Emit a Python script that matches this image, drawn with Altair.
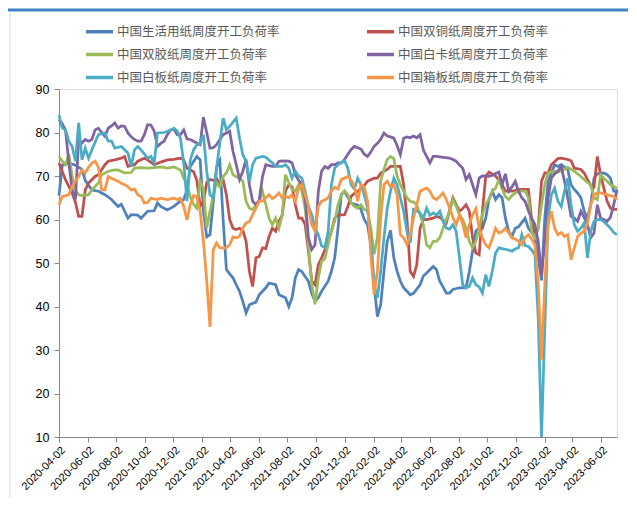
import altair as alt
import pandas as pd

names = ["中国生活用纸周度开工负荷率", "中国双铜纸周度开工负荷率", "中国双胶纸周度开工负荷率",
         "中国白卡纸周度开工负荷率", "中国白板纸周度开工负荷率", "中国箱板纸周度开工负荷率"]
colors = ["#4F81BD", "#C0504D", "#9BBB59", "#8064A2", "#4BACC6", "#F79646"]
# legend fills column by column: this order gives rows (生活用纸, 双铜纸), (双胶纸, 白卡纸), (白板纸, 箱板纸)
legend_order = [0, 2, 4, 1, 3, 5]

start_date = "2020-04-02"
tick_dates = ["2020-04-02", "2020-06-02", "2020-08-02", "2020-10-02", "2020-12-02",
              "2021-02-02", "2021-04-02", "2021-06-02", "2021-08-02", "2021-10-02", "2021-12-02",
              "2022-02-02", "2022-04-02", "2022-06-02", "2022-08-02", "2022-10-02", "2022-12-02",
              "2023-02-02", "2023-04-02", "2023-06-02"]
end_date = "2023-07-06"

# [week since 2020-04-02, value]
tissue = [[0,65.5],[1,72.5],[3,73],[5,72.5],[7,71.5],[8,69],[10,66.8],[12,66.5],[14,65.7],[16,64.6],[18,63],[19,63.5],[21,60.3],[22,61.1],[24,61],[25,60.3],[27,61.9],[29,62],[30,63.8],[31,63],[33,62.2],[35,63],[37,64.2],[38,64.6],[39,66.8],[40,72.2],[42,74.5],[43,73.7],[44,62],[45,56],[46,56.5],[47,64],[48,72],[49,73.5],[50,60],[51,48.5],[52,47.5],[53,46.6],[54,45],[55,43.5],[56,41.2],[57,38.5],[58,40.4],[60,41],[61,42.7],[63,44.3],[64,45.4],[66,45],[67,42.7],[69,42],[70,40],[71,42],[72,46.6],[73,48.5],[74,48],[76,45.8],[77,43],[78,41.2],[79,42],[80,43.5],[82,45.8],[83,48.1],[84,51.2],[85,58],[86,65.7],[87,66.5],[89,63.8],[91,63.3],[92,62.3],[93,60],[94,58.8],[95,54.2],[96,45],[97,37.7],[98,40.4],[99,48.1],[100,55],[101,57.5],[102,51.2],[103,48.1],[104,45.8],[105,44.3],[107,42.7],[108,43],[110,45],[111,47],[112,47.7],[114,49.2],[115,48.5],[116,45.8],[117,44.5],[118,43.1],[119,43.1],[120,43.9],[122,44.3],[124,44.3],[125,48],[126,52.7],[127,57.3],[128,58],[129,58],[130,60.3],[131,64.6],[132,66.5],[133,64.6],[134,65.7],[135,65],[136,60.3],[137,57.3],[138,56.1],[139,58],[140,58.3],[142,60.3],[143,58],[144,57],[145,55.8],[146,51.2],[147,46],[148,60.3],[149,68.8],[151,72.6],[152,72.2],[153,72.6],[155,71.5],[156,68],[157,66.9],[158,66.1],[159,65],[160,61.9],[161,60.3],[162,63.4],[163,69.5],[164,70.5],[166,70.7],[167,70.3],[168,69.5],[169,66.5],[170,66.5]]

coated = [[0,73],[1,71],[2,69.1],[4,66.1],[5,64],[6,60.7],[7,60.7],[8,66.8],[9,68.4],[11,69.9],[12,70.3],[14,72.6],[15,73.4],[17,73.7],[19,74.1],[20,74.5],[21,72.2],[23,72.6],[24,73.4],[26,74.1],[27,73.7],[29,72.6],[31,73.2],[33,73.7],[35,73.8],[37,74.1],[38,73.7],[39,71.8],[41,71],[42,69],[43,63],[44,64],[45,68.5],[46,69.2],[47,69],[48,69.5],[49,68],[50,69.2],[51,65.7],[52,60],[53,58],[54,57.7],[55,58],[56,57.5],[57,55],[58,48.1],[59,44.6],[60,51.2],[61,51.5],[62,53.5],[63,53.3],[64,56.1],[65,58],[66,57.3],[67,59.6],[68,61],[69,66.5],[70,68],[71,67.5],[72,63.4],[73,60.3],[74,60.3],[75,58.8],[76,52.7],[77,45.8],[78,45],[79,49.6],[80,51.2],[81,53],[82,55],[83,57.3],[84,60.3],[85,61],[87,61.1],[88,63],[89,65.3],[90,66],[91,66.5],[93,67.8],[94,68.8],[96,69.5],[97,69.5],[98,70.7],[100,71.5],[101,72.2],[103,72.2],[104,72.2],[105,68],[106,60.3],[107,48.1],[108,46.9],[109,49.6],[110,58],[111,60],[112,60],[114,60.3],[115,60.7],[116,60.5],[118,59.2],[120,65],[121,63.4],[122,61.9],[123,62.5],[124,63.4],[125,61.9],[126,55.8],[127,52.3],[128,51.9],[129,61.9],[130,69.9],[131,70.9],[133,70],[135,68],[136,66.5],[138,66.5],[140,66.9],[142,66.9],[143,66.9],[144,60],[145,56],[146,58],[147,68.8],[148,70.7],[149,70.7],[150,72.6],[152,74],[153,74.1],[155,73.8],[156,73.5],[157,71.8],[159,71.5],[160,70.7],[161,69.2],[162,67.8],[163,67.5],[164,74.5],[165,70.3],[166,67.2],[167,64.2],[168,62.6],[169,62.3],[170,62.3]]

offset = [[0,74.5],[1,73.4],[2,72.6],[3,75],[4,70],[5,66.8],[6,65.7],[7,65.5],[9,65.7],[10,66.8],[12,68.4],[13,70.3],[15,71.1],[17,71.4],[18,71.4],[20,70.7],[22,70.8],[23,71.8],[25,71.9],[27,71.8],[29,71.9],[31,72.1],[33,71.8],[35,72.1],[37,71.4],[38,69.5],[39,68],[40,65.3],[41,63.5],[42,62.6],[43,68.8],[44,67],[45,58],[46,61.9],[47,65.7],[48,68.4],[49,67.5],[50,69.9],[51,70.7],[52,72.6],[53,70.3],[54,69.8],[55,69.5],[56,68.8],[57,64.2],[58,62.6],[59,62.3],[61,64.2],[62,66.5],[63,63.5],[64,60.3],[65,58.8],[66,60.3],[67,58],[68,61],[69,70.3],[70,68.5],[71,66.9],[72,66.5],[73,68],[74,66.5],[75,62.6],[76,54.2],[77,45],[78,40.5],[79,46.6],[80,50.4],[81,51],[82,54.2],[83,57.5],[84,59.6],[85,63.4],[86,65.7],[87,66.6],[88,65.7],[89,63.8],[90,63],[91,62.6],[92,63.4],[93,62.3],[94,62],[95,58],[96,52],[97,55.8],[98,68.8],[99,71.5],[100,73.8],[101,74.5],[102,74],[103,70],[104,68],[105,66.5],[106,65],[107,64.2],[108,64],[109,63.4],[110,61.1],[111,58.8],[112,54.2],[113,53.5],[114,55],[115,55],[116,55.8],[117,58],[118,60],[119,61.9],[120,64.6],[121,63],[122,61.1],[123,60],[124,58],[125,55],[126,53.5],[127,55],[128,58],[129,61.1],[130,63.5],[131,64.6],[132,66.5],[133,67.2],[134,69.2],[135,67],[136,65.3],[137,64.6],[138,65.5],[139,66.1],[140,66.5],[142,66.5],[143,65],[144,57.3],[145,55.8],[146,58],[147,63.4],[148,68],[149,70.7],[151,71.1],[152,70.9],[154,71.5],[155,72],[157,71.1],[158,70.5],[159,69.9],[160,69.2],[161,68.5],[162,68],[163,65],[164,64.6],[165,70.3],[166,69.5],[167,68.8],[168,68],[170,67.2]]

ivory = [[0,83],[1,82],[2,80.5],[3,73],[4,66.8],[5,64.6],[6,78.4],[7,77.6],[8,78.4],[9,78],[10,78.4],[11,80.6],[12,81],[13,80],[14,79.1],[15,81],[16,81.5],[17,82.2],[18,81],[19,81.5],[20,81.4],[21,79.9],[22,79],[23,78.4],[24,78],[25,78],[26,79.5],[27,81.8],[28,81.7],[29,80.3],[30,76.8],[31,77.5],[32,78],[33,79.5],[34,80.6],[35,80.8],[36,79.5],[37,79.5],[38,80.6],[39,78.5],[40,78.4],[41,78],[42,77.6],[43,77.2],[44,83.5],[45,80],[46,76.4],[47,76.5],[48,77.2],[49,78.4],[50,79.5],[51,79.9],[52,80.3],[53,75.7],[54,72.6],[55,69.2],[56,71.1],[57,73.8],[58,68],[59,64.2],[60,63.4],[61,64.5],[62,69.9],[63,72.6],[64,72.4],[65,72.2],[66,72.2],[67,73.4],[68,73.5],[70,73.4],[71,73],[72,70.3],[73,69],[74,68],[75,65],[76,55.8],[77,53.1],[78,54.2],[79,66.5],[80,71.1],[81,72.2],[82,71.8],[83,72.6],[84,72.6],[85,73],[86,73],[87,73.8],[88,75],[89,76.1],[90,76.8],[91,76.5],[92,76.2],[93,75],[94,74.5],[95,75.5],[96,76.8],[97,77.5],[98,78.4],[99,79.9],[100,79.2],[101,79],[102,78.7],[103,77],[104,74.9],[105,78.7],[106,79],[107,78.8],[108,79.2],[109,78.8],[110,79.5],[111,76],[112,74.5],[113,73],[114,74.5],[115,74.5],[117,74.3],[119,74.1],[120,73.8],[121,73.4],[122,72.5],[123,71.8],[124,69.2],[125,70.3],[126,68],[127,65.7],[128,69.5],[129,70],[131,69.9],[132,70.2],[133,70.6],[134,70.9],[135,68],[136,70.5],[137,66.5],[138,67.5],[139,68.8],[140,66.5],[141,65],[142,64.2],[143,62],[144,60.3],[145,58.8],[146,55],[147,47.3],[148,55],[149,65],[150,69.5],[151,70.5],[152,71.1],[153,72.2],[154,68.8],[155,65],[156,60.7],[157,60.3],[158,59.6],[159,61.9],[160,60.5],[161,58.8],[162,55.8],[163,56.9],[164,63.4],[165,60.3],[166,60],[167,59.6],[168,60.5],[169,63.4],[170,66.9]]

whiteboard = [[0,84],[1,81],[2,80.6],[3,78],[4,76.8],[5,73.4],[6,82.2],[7,73.7],[8,76.4],[9,74.1],[10,76],[12,79.5],[14,79.9],[15,78],[16,78],[17,76.4],[19,76.8],[21,75.3],[22,72.2],[23,76],[24,76.8],[25,76],[27,74.1],[28,74.5],[29,73],[30,79.9],[32,80],[34,80.5],[35,81],[36,80.3],[37,78.7],[38,73],[39,64.2],[40,73.7],[41,76],[42,77.2],[43,77.6],[44,79.5],[45,71.1],[46,65.7],[47,65],[48,71.8],[50,83.3],[51,80.7],[52,81.4],[54,83.3],[55,78.7],[56,74.9],[57,73.4],[58,68.8],[59,72.6],[60,74.1],[62,74.5],[63,74.3],[65,73],[66,72.2],[68,72.2],[69,72.6],[70,71.8],[71,69.5],[72,71.1],[73,70],[74,69.5],[75,66.5],[76,63],[77,61.1],[78,58],[79,56.5],[80,54],[81,53.5],[82,57.3],[83,68],[84,71.8],[85,72.6],[87,73.5],[88,71.8],[89,68],[90,67],[91,69.5],[92,68],[93,65.7],[94,62.6],[95,55.8],[96,45],[97,42],[98,48.1],[99,55.8],[100,62.6],[101,66.5],[102,69.5],[103,68],[104,65],[105,61.9],[106,57.3],[107,54.6],[108,62.3],[109,62],[110,61.5],[111,60.3],[112,62.6],[113,61],[114,61.5],[115,61],[116,61.9],[117,59.6],[118,58],[119,57.8],[120,58.8],[121,57.3],[122,51.2],[123,45],[124,44.3],[125,44.6],[126,46.6],[127,45],[128,44.5],[129,43.1],[130,47.3],[131,44.6],[132,48.1],[133,52.3],[134,53.5],[135,53.3],[137,53],[138,52.7],[139,53.2],[140,53.5],[141,56.5],[142,54],[143,53.8],[144,53],[145,51.9],[146,37.4],[147,10],[148,35],[149,60.3],[150,65.7],[151,67.2],[152,64.2],[153,63],[154,66.5],[155,69.5],[156,63.4],[157,58.8],[158,57.3],[159,58],[160,59.2],[161,51.2],[162,57.3],[163,59.6],[164,60],[165,60],[166,59.5],[167,58.8],[168,58],[169,57],[170,56.5]]

container = [[0,63.4],[1,65.3],[2,65.5],[3,65.7],[4,67.6],[5,68.8],[6,69.9],[7,71.4],[8,70.7],[9,72],[10,73],[11,73.4],[12,72],[13,66.8],[14,66.8],[15,69.9],[16,69.5],[18,68.8],[19,68.3],[20,68],[21,67.5],[22,66.8],[23,67],[24,65.7],[25,65.3],[26,63.8],[27,63.9],[28,64.9],[30,64.6],[31,64.9],[33,64.6],[35,64.9],[36,64.6],[37,64.9],[38,63],[39,59.9],[40,63.5],[41,65.5],[42,65.3],[43,62],[44,55],[45,46],[46,35.3],[47,53],[48,54.6],[49,53.5],[50,53.4],[51,53.5],[52,54.2],[53,56],[54,55.8],[55,56.1],[56,58],[57,59.2],[58,59.5],[59,61.1],[60,62.6],[61,64.2],[62,64.2],[63,65],[64,65.7],[65,64.8],[66,65.3],[67,66.1],[68,65],[69,65.3],[70,65],[71,65.7],[72,64.2],[73,67.2],[74,68],[75,65.7],[76,63],[77,58.8],[78,57.3],[79,63],[80,64.2],[81,64.5],[82,65],[83,66.5],[84,67.4],[85,67],[86,69.2],[88,69.9],[89,69],[90,67.6],[91,64.2],[92,68],[93,67.5],[94,64.2],[95,52],[96,42.7],[97,48.1],[98,60.3],[99,68],[100,68.8],[101,67.5],[102,68],[103,65.7],[104,56.5],[105,55.8],[106,54.2],[107,56.5],[108,60.3],[109,63.4],[110,66.5],[111,66.9],[112,67.2],[113,66.5],[114,65],[115,64.6],[116,65.3],[117,66.1],[118,64.6],[119,62.6],[120,60.5],[121,58.8],[122,61.1],[123,59],[124,55.8],[125,58.8],[126,61.1],[127,62.5],[128,58],[129,55.8],[130,54.2],[131,53.5],[132,55.5],[133,58],[134,56.9],[135,57.2],[136,58],[137,57],[138,55.8],[139,55.5],[140,55],[141,54.2],[142,55.8],[143,56.5],[144,55.5],[145,54.2],[146,45],[147,27.8],[148,45],[149,58.8],[150,61.9],[151,58],[152,56.5],[153,57],[154,56.1],[155,56.5],[156,50.8],[157,53.5],[158,56.1],[159,56.8],[160,57.3],[161,59],[162,63.4],[163,65.7],[164,66.1],[165,66.1],[167,65.7],[169,65.3],[170,64.6]]

series_data = [tissue, coated, offset, ivory, whiteboard, container]

rows = []
t0 = pd.Timestamp(start_date)
for name, pts in zip(names, series_data):
    for wk, v in pts:
        d = t0 + pd.Timedelta(days=7 * wk)
        rows.append({"series": name, "date": d.strftime("%Y/%m/%d"), "value": v})
df = pd.DataFrame(rows)

domain_names = [names[i] for i in legend_order]
domain_colors = [colors[i] for i in legend_order]


def dt(s):
    y, m, d = s.split("-")
    return alt.DateTime(year=int(y), month=int(m), date=int(d))


lines = alt.Chart(df).mark_line(strokeWidth=2.75).encode(
    x=alt.X("date:T",
            scale=alt.Scale(domain=[dt(start_date), dt(end_date)]),
            axis=alt.Axis(values=[dt(s) for s in tick_dates], format="%Y-%m-%d",
                          labelAngle=-45, labelOverlap=False, labelFlush=False,
                          labelFontSize=11, labelPadding=2, title=None, grid=False)),
    y=alt.Y("value:Q",
            scale=alt.Scale(domain=[10, 90], nice=False, zero=False),
            axis=alt.Axis(values=list(range(10, 91, 10)), title=None, grid=False,
                          labelFontSize=12.5, labelPadding=5)),
    color=alt.Color("series:N",
                    scale=alt.Scale(domain=domain_names, range=domain_colors),
                    legend=alt.Legend(title=None, orient="none", legendX=25, legendY=-73,
                                      columns=2, columnPadding=80, rowPadding=0,
                                      symbolType="stroke", symbolSize=729, symbolStrokeWidth=3.5,
                                      labelFont="Noto Sans CJK SC", labelFontSize=12.5,
                                      labelColor="#595959", labelOffset=2, labelLimit=300)),
    order=alt.Order("date:T"),
)

deco = pd.DataFrame({"k": [0]})
top_bar = alt.Chart(deco).mark_rule(color="#3C84C6", strokeWidth=3).encode(
    x=alt.value(-60), x2=alt.value(600), y=alt.value(-79))
left_border = alt.Chart(deco).mark_rule(color="#D9D9D9", strokeWidth=1).encode(
    x=alt.value(-49), y=alt.value(-76), y2=alt.value(430))

chart = alt.layer(top_bar, left_border, lines).properties(
    width=558, height=348,
    autosize=alt.AutoSizeParams(type="none"),
    padding={"left": 51, "top": 81, "right": 11, "bottom": 60},
).configure_view(stroke=None).configure_axis(
    domainColor="#404040", tickColor="#404040", tickSize=5,
    labelColor="#595959", labelFont="Liberation Sans",
).configure(background="white")

chart.save("out.html", embed_options={"renderer": "svg", "actions": False})
